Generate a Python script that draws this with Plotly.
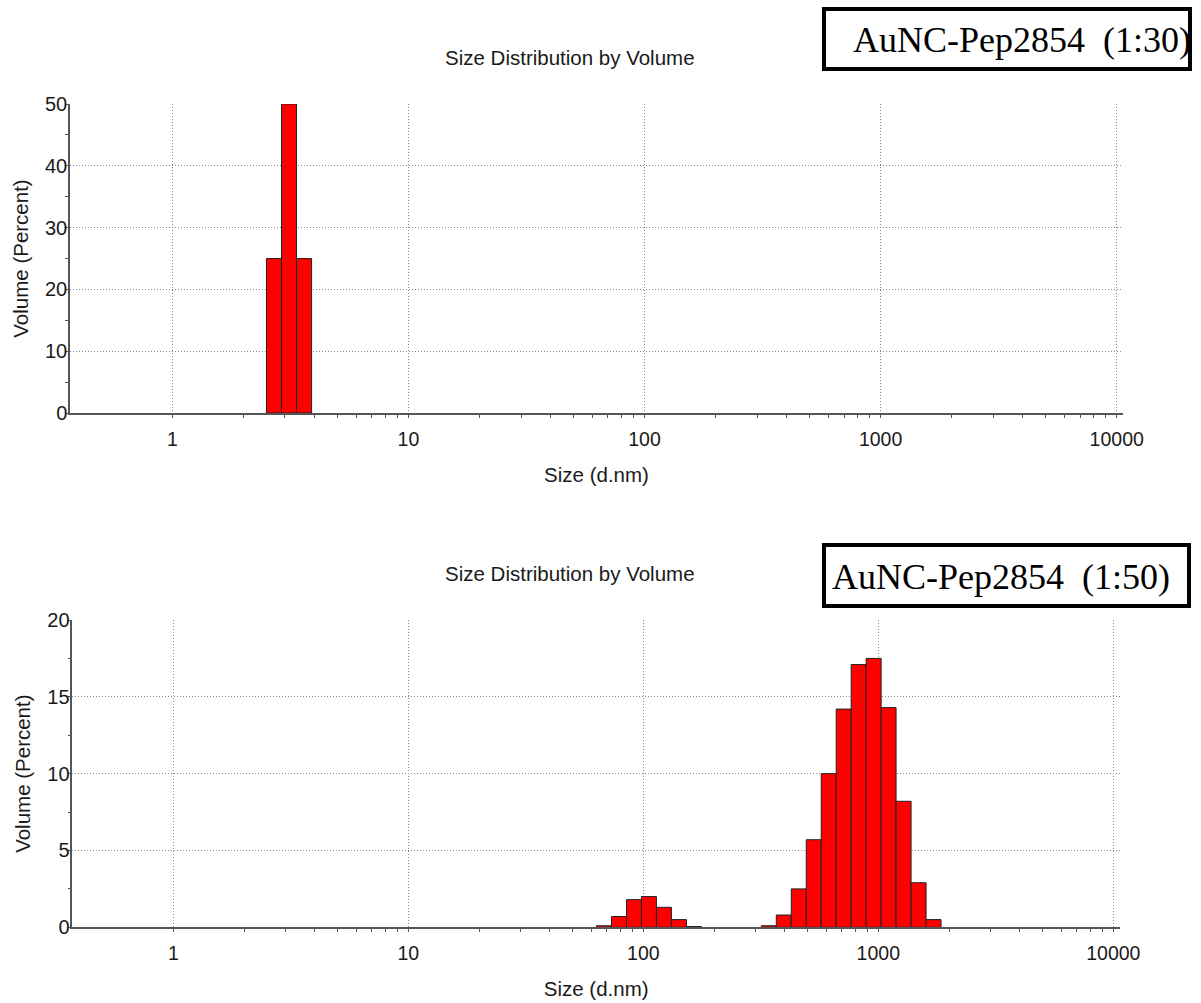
import math
import plotly.graph_objects as go

# ---------------- data ----------------
top_sizes = [2.696, 3.122, 3.615]
top_volume = [25.0, 50.0, 25.0]

bottom_sizes = [68.06, 78.82, 91.28, 105.7, 122.4, 141.8, 164.2,
                342.0, 396.1, 458.7, 531.2, 615.1, 712.4, 825.0, 955.4,
                1106, 1281, 1484, 1718]
bottom_volume = [0.1, 0.7, 1.8, 2.0, 1.3, 0.5, 0.05,
                 0.1, 0.8, 2.5, 5.7, 10.0, 14.2, 17.1, 17.5,
                 14.3, 8.2, 2.9, 0.5]

x_tick_vals = [1, 10, 100, 1000, 10000]
x_tick_text = ["1", "10", "100", "1000", "10000"]
top_y_ticks = [0, 10, 20, 30, 40, 50]
bottom_y_ticks = [0, 5, 10, 15, 20]
chart_title = "Size Distribution by Volume"
x_title = "Size (d.nm)"
y_title = "Volume (Percent)"
top_label = "AuNC-Pep2854\u00a0 (1:30)"
bottom_label = "AuNC-Pep2854\u00a0 (1:50)"

# Malvern size classes: 70 log-spaced classes from 0.4 to 10000 nm
STEP = (10000 / 0.4) ** (1 / 69)

W, H = 1201, 1003


def px_x(p):
    return p / W


def px_y(p):
    return 1 - p / H


def bar_geom(sizes):
    lo = [s / math.sqrt(STEP) for s in sizes]
    hi = [s * math.sqrt(STEP) for s in sizes]
    width = [h - l for l, h in zip(lo, hi)]
    offset = [l - s for l, s in zip(lo, sizes)]
    return width, offset


minor_x = [m * 10 ** d for d in range(0, 4) for m in range(2, 10)]

FONT = "Liberation Sans, Arial, sans-serif"
TXT = "#1a1a1a"
AXC = "#555555"
GRIDC = "#8c8c8c"

fig = go.Figure()

for sizes, vols, xa, ya in [(top_sizes, top_volume, "x", "y"),
                            (bottom_sizes, bottom_volume, "x2", "y2")]:
    w, o = bar_geom(sizes)
    fig.add_trace(go.Bar(
        x=sizes, y=vols, width=w, offset=o,
        marker=dict(color="#ff0000", line=dict(color="#222222", width=1)),
        xaxis=xa, yaxis=ya, showlegend=False,
    ))


def xaxis_cfg(domain, rng):
    return dict(
        type="log", domain=domain, range=rng,
        tickmode="array", tickvals=x_tick_vals, ticktext=x_tick_text,
        ticks="outside", ticklen=3, tickcolor=AXC, tickwidth=1,
        ticklabelstandoff=5,
        minor=dict(tickmode="array", tickvals=minor_x, ticks="outside",
                   ticklen=3, tickcolor=AXC, tickwidth=1, showgrid=False),
        showline=True, linecolor=AXC, linewidth=1.5,
        showgrid=True, gridcolor=GRIDC, gridwidth=1, griddash="1px,2px",
        zeroline=False,
        tickfont=dict(family=FONT, size=19.5, color=TXT),
        title=dict(text=x_title, font=dict(family=FONT, size=20.5, color=TXT),
                   standoff=18),
        automargin=False,
    )


def yaxis_cfg(domain, rng, ticks, minor_dtick):
    return dict(
        domain=domain, range=rng,
        tickmode="array", tickvals=ticks,
        ticks="outside", ticklen=2, tickcolor=AXC, tickwidth=1,
        ticklabelstandoff=-5,
        minor=dict(dtick=minor_dtick, tick0=0, ticks="outside", ticklen=3,
                   tickcolor=AXC, tickwidth=1, showgrid=False),
        showline=True, linecolor=AXC, linewidth=1.5,
        showgrid=True, gridcolor=GRIDC, gridwidth=1, griddash="1px,2px",
        zeroline=False,
        tickfont=dict(family=FONT, size=20, color=TXT),
        title=dict(text=y_title, font=dict(family=FONT, size=20.5, color=TXT),
                   standoff=11),
        automargin=False,
    )


fig.update_layout(
    width=W, height=H,
    margin=dict(l=0, r=0, t=0, b=0),
    paper_bgcolor="white", plot_bgcolor="white",
    barmode="overlay",
    xaxis=xaxis_cfg([px_x(70), px_x(1123)], [-0.4333, 4.0267]),
    yaxis=yaxis_cfg([px_y(413), px_y(104)], [0, 50], top_y_ticks, 5),
    xaxis2=xaxis_cfg([px_x(72.3), px_x(1120)], [-0.4298, 4.0285]),
    yaxis2=yaxis_cfg([px_y(927.3), px_y(620)], [0, 20], bottom_y_ticks, 2.5),
)
fig.layout.xaxis2.anchor = "y2"
fig.layout.yaxis2.anchor = "x2"

# chart titles
for yc in [57, 573]:
    fig.add_annotation(text=chart_title, xref="paper", yref="paper",
                       x=px_x(570), y=px_y(yc), xanchor="center", yanchor="middle",
                       showarrow=False,
                       font=dict(family=FONT, size=20.5, color=TXT))

# labelled boxes
boxes = [
    (top_label, (824, 9, 1190, 69), 851, 40),
    (bottom_label, (824, 545, 1189, 606), 830, 577),
]
for text, (x0, y0, x1, y1), tx, ty in boxes:
    fig.add_shape(type="rect", xref="paper", yref="paper",
                  x0=px_x(x0), x1=px_x(x1), y0=px_y(y1), y1=px_y(y0),
                  line=dict(color="black", width=4), fillcolor="rgba(0,0,0,0)")
    fig.add_annotation(text=text, xref="paper", yref="paper",
                       x=px_x(tx), y=px_y(ty), xanchor="left", yanchor="middle",
                       showarrow=False,
                       font=dict(family="Liberation Serif, Times New Roman, serif",
                                 size=36, color="black"))

fig.write_html(
    "out.html",
    config={"displayModeBar": False},
    post_script="document.body.style.margin='0';document.body.style.overflow='hidden';",
)
